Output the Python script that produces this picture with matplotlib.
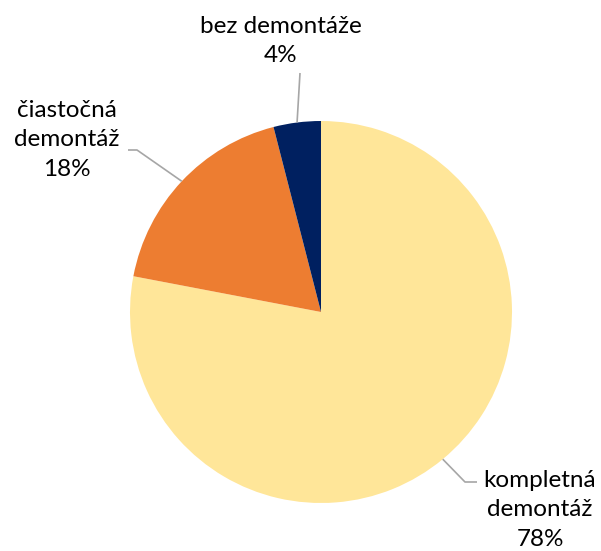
import numpy as np
import matplotlib
matplotlib.use("Agg")
import matplotlib.pyplot as plt

# Data
categories = ["kompletná\ndemontáž", "čiastočná\ndemontáž", "bez demontáže"]
shares = [78, 18, 4]
colors = ["#FFE699", "#ED7D31", "#002060"]

W, H = 601, 551
fig = plt.figure(figsize=(W / 100, H / 100), dpi=100)
ax = fig.add_axes([0, 0, 1, 1])

cx, cy, r = 321, H - 312, 191
wedges, _ = ax.pie(shares, colors=colors, startangle=90, counterclock=False,
                   center=(cx, cy), radius=r, frame=True,
                   wedgeprops=dict(linewidth=0))
ax.set_xlim(0, W)
ax.set_ylim(0, H)
ax.set_aspect("equal")
ax.axis("off")

# label placement (pixel positions, y from top) and leader elbows
label_pos = [(540, 510), (67, 140), (281, 41)]
elbows = [[(465, 482), (477, 482)], [(137, 150), (128, 150)], [(300, 73)]]

for w, cat, val, (tx, ty), elb in zip(wedges, categories, shares, label_pos, elbows):
    mid = np.deg2rad((w.theta1 + w.theta2) / 2)
    ax_pt = (cx + r * np.cos(mid), cy + r * np.sin(mid))
    xs = [ax_pt[0]] + [p[0] for p in elb]
    ys = [ax_pt[1]] + [H - p[1] for p in elb]
    ax.plot(xs, ys, color="#A6A6A6", lw=1.2, solid_capstyle="butt")
    ax.text(tx, H - ty, f"{cat}\n{val}%", ha="center", va="center",
            fontsize=17.5, family="Lato", color="#000000", linespacing=1.5)

fig.savefig("out.png", dpi=100)
